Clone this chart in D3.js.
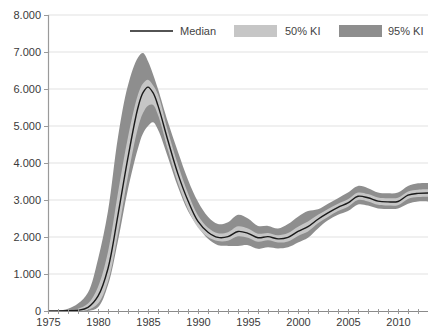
<!DOCTYPE html>
<html><head><meta charset="utf-8">
<script src="https://cdn.jsdelivr.net/npm/d3@7"></script>
<style>body{margin:0;background:#fff}svg{display:block}text{font-family:"Liberation Sans",Arial,sans-serif}</style>
</head><body><svg id="c" width="428" height="332"></svg>
<script>
const years  = [1975,1976,1977,1978,1979,1980,1981,1982,1983,1984,1984.5,1985,1985.5,1986,1987,1988,1989,1990,1991,1992,1993,1994,1995,1996,1997,1998,1999,2000,2001,2002,2003,2004,2005,2006,2007,2008,2009,2010,2011,2012,2013];
const median = [0,0,5,20,100,400,1150,2600,4150,5500,5900,6050,5900,5550,4600,3700,2980,2420,2130,1990,2010,2150,2100,1980,2010,1950,1990,2150,2280,2480,2650,2800,2920,3100,3060,2970,2950,2960,3130,3180,3190];
const lo50   = [0,0,0,0,30,200,800,2100,3650,4950,5350,5550,5570,5300,4350,3450,2750,2250,2000,1890,1900,2020,1980,1870,1910,1850,1880,2030,2150,2370,2540,2700,2820,3000,2960,2870,2850,2860,3030,3080,3090];
const hi50   = [0,2,15,60,200,650,1600,3200,4700,5850,6150,6250,6100,5850,4850,3950,3180,2580,2250,2100,2130,2290,2230,2090,2110,2050,2110,2280,2420,2600,2760,2900,3020,3200,3160,3070,3050,3060,3230,3280,3290];
const lo95   = [0,0,0,0,0,100,700,1900,3300,4400,4800,5000,5100,4900,4150,3350,2700,2280,1950,1780,1760,1760,1780,1680,1720,1690,1720,1850,1980,2230,2450,2600,2700,2880,2850,2770,2760,2770,2900,2960,2960];
const hi95   = [0,10,60,200,500,1400,2700,4700,6100,6850,6970,6750,6400,6000,5100,4300,3550,2950,2550,2350,2400,2600,2500,2300,2300,2230,2350,2550,2700,2750,2900,3050,3200,3380,3320,3200,3180,3200,3380,3450,3460];
const yTicks = [0,1000,2000,3000,4000,5000,6000,7000,8000];
const xTicks = [1975,1980,1985,1990,1995,2000,2005,2010];
const legendItems = ["Median","50% KI","95% KI"];

const svg = d3.select("#c");
const x = d3.scaleLinear().domain([1975,2013]).range([48,428]);
const y = d3.scaleLinear().domain([0,8000]).range([311,15]);
const fmt = v => v===0 ? "0" : d3.format(",")(v).replace(/,/g,".");

svg.append("g").selectAll("line").data(yTicks.filter(d=>d>0)).join("line")
  .attr("x1",48).attr("x2",428).attr("y1",d=>y(d)).attr("y2",d=>y(d))
  .attr("stroke","#ebebeb").attr("stroke-width",1.6);

const rows = years.map((yr,i)=>({yr, m:median[i], l5:lo50[i], h5:hi50[i], l9:lo95[i], h9:hi95[i]}));
const curve = d3.curveCatmullRom.alpha(0.5);
const cl = v => Math.min(y(0), v);
svg.append("clipPath").attr("id","pc").append("rect").attr("x",48).attr("y",0).attr("width",380).attr("height",311);
const plot = svg.append("g").attr("clip-path","url(#pc)");
plot.append("path").datum(rows)
  .attr("d", d3.area().x(d=>x(d.yr)).y0(d=>y(d.l9)).y1(d=>y(d.h9)).curve(curve))
  .attr("fill","#8e8e8e");
plot.append("path").datum(rows)
  .attr("d", d3.area().x(d=>x(d.yr)).y0(d=>y(d.l5)).y1(d=>y(d.h5)).curve(curve))
  .attr("fill","#c6c6c6");
plot.append("path").datum(rows)
  .attr("d", d3.line().x(d=>x(d.yr)).y(d=>y(d.m)).curve(curve))
  .attr("fill","none").attr("stroke","#1a1a1a").attr("stroke-width",1.4);

const ya = svg.append("g").attr("transform","translate(48,0)")
  .call(d3.axisLeft(y).tickValues(yTicks).tickFormat(fmt).tickSize(4).tickPadding(3));
ya.select(".domain").attr("stroke","#9a9a9a").attr("stroke-width",1.2);
ya.selectAll(".tick line").attr("stroke","#9a9a9a");
ya.selectAll("text").attr("font-size",11).attr("fill","#3a3a3a");

const xa = svg.append("g").attr("transform","translate(0,311)")
  .call(d3.axisBottom(x).tickValues(d3.range(1975,2014)).tickFormat(d=>xTicks.includes(d)?d:"").tickSize(3).tickPadding(4).tickSizeOuter(0));
xa.select(".domain").attr("stroke","#8a8a8a").attr("stroke-width",1.2);
xa.selectAll(".tick line").attr("stroke","#9a9a9a").attr("y1",-2);
xa.selectAll("text").attr("font-size",11).attr("fill","#3a3a3a");

const lg = svg.append("g").attr("font-size",11).attr("fill","#444");
lg.append("line").attr("x1",130).attr("x2",173).attr("y1",31).attr("y2",31).attr("stroke","#1a1a1a").attr("stroke-width",1.4);
lg.append("text").attr("x",180).attr("y",35).text(legendItems[0]);
lg.append("rect").attr("x",234).attr("y",25).attr("width",43).attr("height",12).attr("fill","#c6c6c6");
lg.append("text").attr("x",285).attr("y",35).text(legendItems[1]);
lg.append("rect").attr("x",339).attr("y",25).attr("width",43).attr("height",12).attr("fill","#8e8e8e");
lg.append("text").attr("x",388).attr("y",35).text(legendItems[2]);
</script></body></html>
